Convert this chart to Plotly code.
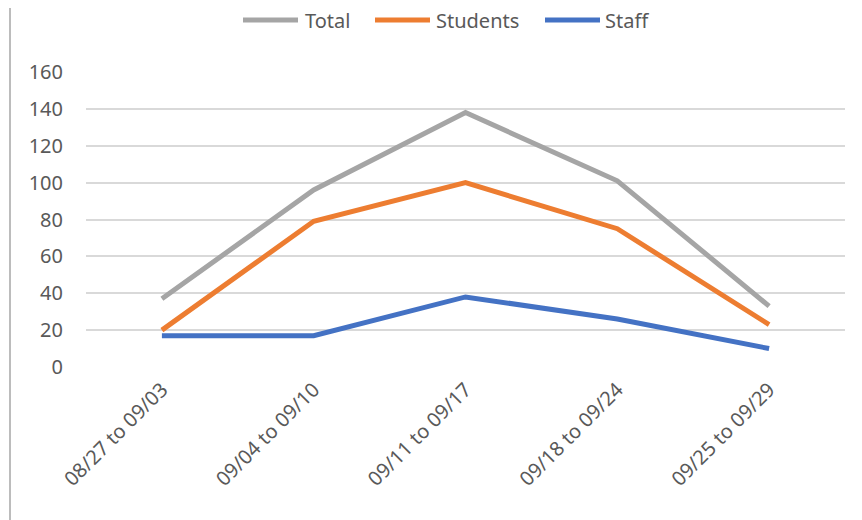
import plotly.graph_objects as go

categories = ["08/27 to 09/03", "09/04 to 09/10", "09/11 to 09/17", "09/18 to 09/24", "09/25 to 09/29"]
total = [37, 96, 138, 101, 33]
students = [20, 79, 100, 75, 23]
staff = [17, 17, 38, 26, 10]
y_ticks = [0, 20, 40, 60, 80, 100, 120, 140, 160]

series = [("Total", total, "#A5A5A5"), ("Students", students, "#ED7D31"), ("Staff", staff, "#4472C4")]

OFF = 8  # page body margin
W, H = 862, 520
L, R, T, B = 86 - OFF, 17 + OFF, 72 - OFF, 153 + OFF
pw, ph = W - L - R, H - T - B

fig = go.Figure()
for name, vals, color in series:
    fig.add_trace(go.Scatter(x=categories, y=vals, name=name, mode="lines",
                             line=dict(color=color, width=5), showlegend=False))

# custom legend (line sample + label), positions in page pixels
legend_pos = [(243, 298, 303), (375, 430, 434), (545, 600, 603)]
shapes = []
annotations = []
ly = 1 + (T - (20 - OFF)) / ph
for (name, vals, color), (x0, x1, tx) in zip(series, legend_pos):
    shapes.append(dict(type="line", xref="paper", yref="paper",
                       x0=(x0 - OFF - L) / pw, x1=(x1 - OFF - L) / pw, y0=ly, y1=ly,
                       line=dict(color=color, width=5)))
    annotations.append(dict(text=name, xref="paper", yref="paper", x=(tx - OFF - L) / pw, y=ly,
                            xanchor="left", yanchor="middle", showarrow=False,
                            font=dict(size=20, color="#595959")))

shapes.append(dict(type="line", xref="paper", yref="paper",
                   x0=(10 - OFF - L) / pw, x1=(10 - OFF - L) / pw, y0=-B / ph, y1=1 + T / ph,
                   line=dict(color="#A6A6A6", width=1.5)))

fig.update_layout(
    width=W, height=H,
    margin=dict(l=L, r=R, t=T, b=B, autoexpand=False),
    paper_bgcolor="white", plot_bgcolor="white",
    font=dict(family="Noto Sans, Open Sans, sans-serif", size=20, color="#595959"),
    xaxis=dict(range=[-0.5, 4.5], showgrid=False, showline=False, zeroline=False, tickangle=-45,
               ticks="", automargin=False, ticklabelstandoff=6,
               tickfont=dict(size=20, color="#595959")),
    yaxis=dict(range=[0, 160], tickvals=y_ticks, showgrid=True, gridcolor="#D9D9D9",
               gridwidth=1.5, zeroline=False, showline=False, ticks="", automargin=False,
               tickfont=dict(size=20, color="#595959"), ticklabelstandoff=22),
    shapes=shapes,
    annotations=annotations,
)

fig.write_html("out.html")
